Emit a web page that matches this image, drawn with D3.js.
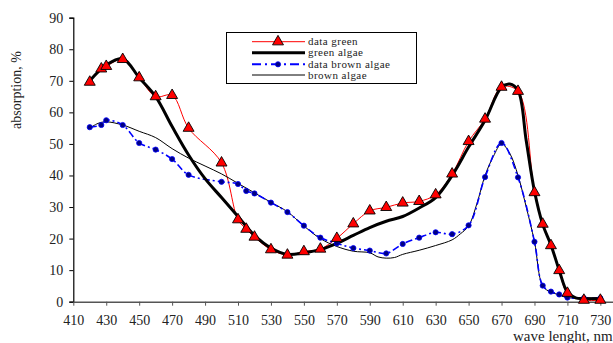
<!DOCTYPE html>
<html><head><meta charset="utf-8">
<script src="https://cdn.jsdelivr.net/npm/d3@7"></script>
<style>
html,body{margin:0;padding:0;background:#fff;overflow:hidden;}
text{font-family:"Liberation Serif","Times New Roman",serif;}
</style></head>
<body><svg id="c" width="613" height="343"></svg>
<script>
// ---- data ----
const greenDataX = [420,427,430,440,450,460,470,480,500,510,515,520,530,540,550,560,570,580,590,600,610,620,630,640,650,660,670,680,690,695,700,705,710,720,730];
const greenDataY = [69.6,73.8,74.6,76.8,71,65,65.4,55,44,26,23,20.5,16.5,14.8,15.9,16.7,20.1,24.7,28.8,29.9,31.3,31.8,33.9,40.5,50.8,57.9,68,66.7,34.6,24.6,17.8,9.9,2.7,0.5,0.5];

const greenModelX = [420,430,440,450,460,470,480,490,500,510,520,530,540,550,560,570,580,590,600,610,620,630,640,650,660,670,675,680,685,690,695,700,705,710,715,720,730];
const greenModelY = [70,75,77,71,65,55.5,46.5,39,33,27,21,17,15,15.5,16.5,18.5,21,23.5,25.5,27,29.7,33,40,49,57.5,68,69,67,51,35,24.5,18,10,3,1.2,1,1];

const brownDataX = [420,427,430,440,450,460,470,480,500,510,515,520,530,540,550,560,570,580,590,600,610,620,630,640,650,660,670,680,690,695,700,705,710,720,730];
const brownDataY = [55.3,56,57.5,56,50.3,48.2,45.2,40.2,38,37.3,35.1,34.3,31.4,28.4,24.1,20.3,18.5,17,16.2,15.3,18.3,20.3,22,21.4,24.2,39.5,50.3,39.4,19,5.1,3.2,2.3,1.3,1.1,1.1];

const brownModelX = [420,425,430,440,450,460,470,480,490,500,510,520,530,540,550,560,570,580,590,595,600,605,610,620,630,640,645,650,655,660,665,670,675,680,685,690,695,700,705,710,720,730];
const brownModelY = [55,56.5,57,56,54,52,48.5,45.5,43,40.5,37.5,34.5,31.5,28.5,24,20,17.5,16,15.5,14.2,13.8,14,15,16.3,17.8,19.6,21.5,24,31,40,46,50,47,40,30,19,5,3,2.2,1.3,1.2,1.2];

const xTicks = [410,430,450,470,490,510,530,550,570,590,610,630,650,670,690,710,730];
const yTicks = [0,10,20,30,40,50,60,70,80,90];
const legendLabels = ["data green","green algae","data brown algae","brown algae"];

// ---- chart ----
const svg = d3.select("#c");
const x = d3.scaleLinear().domain([410,750]).range([73.3,633.3]);
const y = d3.scaleLinear().domain([0,90]).range([301.7,17.7]);
const font = '"Liberation Serif","Times New Roman",serif';

// y axis
const yAxis = svg.append("g").attr("transform","translate(73.3,0)")
  .call(d3.axisLeft(y).tickValues(yTicks).tickSize(4).tickPadding(6));
yAxis.select(".domain").attr("stroke","#000").attr("stroke-width",1.2);
yAxis.selectAll(".tick line").attr("stroke","#000");
yAxis.selectAll("text").attr("font-family",font).attr("font-size",14).attr("fill","#222");

// x axis
const xAxis = svg.append("g").attr("transform","translate(0,301.7)")
  .call(d3.axisBottom(x).tickValues(xTicks).tickSize(4).tickPadding(9).tickSizeOuter(0));
xAxis.select(".domain").attr("stroke","#555").attr("stroke-width",1.6);
xAxis.selectAll(".tick line").attr("stroke","#555");
xAxis.selectAll("text").attr("font-family",font).attr("font-size",14).attr("fill","#222");

// axis titles
svg.append("text").attr("transform","translate(21,90) rotate(-90)")
  .attr("text-anchor","middle").attr("font-family",font).attr("font-size",14).attr("fill","#222")
  .text("absorption, %");
svg.append("text").attr("x",513).attr("y",340.5).attr("font-family",font).attr("font-size",15).attr("fill","#222")
  .text("wave lenght, nm");

const zip = (xs,ys)=>xs.map((v,i)=>[v,ys[i]]);
const line = d3.line().x(d=>x(d[0])).y(d=>y(d[1])).curve(d3.curveCatmullRom.alpha(0.5));

const gD = zip(greenDataX,greenDataY), gM = zip(greenModelX,greenModelY);
const bD = zip(brownDataX,brownDataY), bM = zip(brownModelX,brownModelY);

svg.append("path").attr("d",line(gD)).attr("fill","none").attr("stroke","#ff0000").attr("stroke-width",1);
svg.append("path").attr("d",line(bM)).attr("fill","none").attr("stroke","#000").attr("stroke-width",1);
svg.append("path").attr("d",line(bD)).attr("fill","none").attr("stroke","#0000ff").attr("stroke-width",1.6)
  .attr("stroke-dasharray","7,3,2,3");
svg.append("path").attr("d",line(gM)).attr("fill","none").attr("stroke","#000").attr("stroke-width",3);

const tri = d3.symbol().type(d3.symbolTriangle).size(52);
svg.append("g").selectAll("circle").data(bD).join("circle")
  .attr("cx",d=>x(d[0])).attr("cy",d=>y(d[1])).attr("r",2.6)
  .attr("fill","#000080").attr("stroke","#0000ff").attr("stroke-width",0.8);
svg.append("g").selectAll("path").data(gD).join("path")
  .attr("d",tri).attr("transform",d=>`translate(${x(d[0])},${y(d[1])})`)
  .attr("fill","#ff0000").attr("stroke","#000").attr("stroke-width",0.9);

// legend
const lg = svg.append("g");
lg.append("rect").attr("x",226.5).attr("y",32.5).attr("width",190).attr("height",51)
  .attr("fill","#fff").attr("stroke","#000").attr("stroke-width",1);
const rows = [41.7,52.7,64.3,75];
const styles = [
  {stroke:"#ff0000",w:1,dash:null},
  {stroke:"#000",w:3,dash:null},
  {stroke:"#0000ff",w:2,dash:"9,4,2,4"},
  {stroke:"#000",w:1,dash:null}];
legendLabels.forEach((t,i)=>{
  const s = styles[i];
  const l = lg.append("line").attr("x1",252).attr("x2",305).attr("y1",rows[i]).attr("y2",rows[i])
    .attr("stroke",s.stroke).attr("stroke-width",s.w);
  if(s.dash) l.attr("stroke-dasharray",s.dash);
  lg.append("text").attr("x",308).attr("y",rows[i]+3.5).attr("font-family",font).attr("font-size",11)
    .attr("letter-spacing",0.45).attr("fill","#222").text(t);
});
lg.append("path").attr("d",tri).attr("transform",`translate(278,${rows[0]})`)
  .attr("fill","#ff0000").attr("stroke","#000").attr("stroke-width",0.9);
lg.append("circle").attr("cx",278).attr("cy",rows[2]).attr("r",2.6)
  .attr("fill","#000080").attr("stroke","#0000ff").attr("stroke-width",0.8);
</script></body></html>
